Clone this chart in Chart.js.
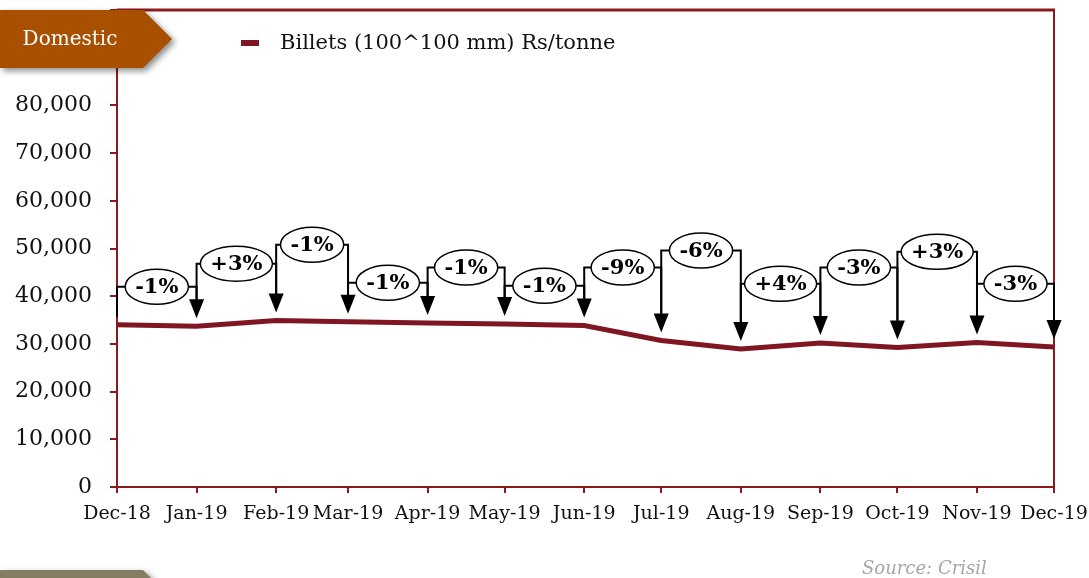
<!DOCTYPE html>
<html>
<head>
<meta charset="utf-8">
<title>Billets price</title>
<script src="https://cdn.jsdelivr.net/npm/chart.js@4/dist/chart.umd.min.js"></script>
<style>
  body { margin: 0; background: #fff; }
  #wrap { width: 1089px; height: 578px; position: relative; }
</style>
</head>
<body>
<div id="wrap"><canvas id="chart"></canvas></div>
<script>
// data
const months = ['Dec-18', 'Jan-19', 'Feb-19', 'Mar-19', 'Apr-19', 'May-19', 'Jun-19',
                'Jul-19', 'Aug-19', 'Sep-19', 'Oct-19', 'Nov-19', 'Dec-19'];
const billets = [34000, 33700, 34900, 34650, 34370, 34160, 33870,
                 30720, 28910, 30170, 29250, 30300, 29330];
const changeLabels = ['-1%', '+3%', '-1%', '-1%', '-1%', '-1%', '-9%', '-6%', '+4%', '-3%', '+3%', '-3%'];
// height (in Rs/tonne) at which each month-on-month callout sits
const calloutLevels = [42000, 46800, 50800, 42800, 46000, 42200, 46000, 49600, 42600, 46000, 49300, 42600];
const seriesName = 'Billets (100^100 mm) Rs/tonne';

const frameRed = '#8c1c1c';
const lineRed = '#801621';

// month labels -> days since the first month (the axis is a date axis)
const monNames = ['Jan', 'Feb', 'Mar', 'Apr', 'May', 'Jun', 'Jul', 'Aug', 'Sep', 'Oct', 'Nov', 'Dec'];
function toDate(lbl) {
  const [m, y] = lbl.split('-');
  return Date.UTC(2000 + Number(y), monNames.indexOf(m), 1);
}
const start = toDate(months[0]);
const days = months.map(m => Math.round((toDate(m) - start) / 86400000));

Chart.defaults.font.family = "'DejaVu Serif', serif";
Chart.defaults.color = '#1a1a1a';

// top and right edges of the frame
const framePlugin = {
  id: 'frame',
  beforeDatasetsDraw(chart) {
    const { ctx, chartArea: a } = chart;
    ctx.save();
    ctx.strokeStyle = frameRed;
    ctx.lineWidth = 3;
    ctx.beginPath();
    ctx.moveTo(a.left, a.top);
    ctx.lineTo(a.right + 1, a.top);
    ctx.stroke();
    ctx.lineWidth = 2;
    ctx.beginPath();
    ctx.moveTo(a.right, a.top);
    ctx.lineTo(a.right, a.bottom);
    ctx.stroke();
    ctx.restore();
  }
};

// bracket + ellipse + arrow for every month-on-month change
const calloutPlugin = {
  id: 'callouts',
  afterDatasetsDraw(chart) {
    const { ctx } = chart;
    const xs = chart.scales.x, ys = chart.scales.y;
    const gap = 8, headH = 19, headW = 7.5;
    ctx.save();
    ctx.strokeStyle = '#000';
    ctx.fillStyle = '#000';
    ctx.font = "bold 21px 'DejaVu Serif', serif";
    ctx.textAlign = 'center';
    ctx.textBaseline = 'middle';
    for (let i = 1; i < months.length; i++) {
      const x0 = xs.getPixelForValue(days[i - 1]);
      const x1 = xs.getPixelForValue(days[i]);
      const yl = ys.getPixelForValue(calloutLevels[i - 1]);
      const y0 = ys.getPixelForValue(billets[i - 1]) - gap;
      const y1 = ys.getPixelForValue(billets[i]) - gap;
      const cx = (x0 + x1) / 2;
      const tw = ctx.measureText(changeLabels[i - 1]).width;
      const rx = Math.min((tw + 20) / 2, (x1 - x0) / 2 - 2);
      const ry = 17.5;

      ctx.lineWidth = 2;
      ctx.beginPath();
      // left leg
      ctx.moveTo(x0, i === 1 ? y0 : y0 - headH);
      ctx.lineTo(x0, yl);
      ctx.lineTo(cx - rx, yl);
      // right leg down to the arrow
      ctx.moveTo(cx + rx, yl);
      ctx.lineTo(x1, yl);
      ctx.lineTo(x1, y1 - headH + 1);
      ctx.stroke();

      ctx.beginPath();
      ctx.moveTo(x1 - headW, y1 - headH);
      ctx.lineTo(x1 + headW, y1 - headH);
      ctx.lineTo(x1, y1);
      ctx.closePath();
      ctx.fill();

      ctx.beginPath();
      ctx.ellipse(cx, yl, rx, ry, 0, 0, Math.PI * 2);
      ctx.fillStyle = '#fff';
      ctx.fill();
      ctx.lineWidth = 1.5;
      ctx.stroke();
      ctx.fillStyle = '#000';
      ctx.fillText(changeLabels[i - 1], cx, yl + 1);
    }
    ctx.restore();
  }
};

// legend, section tags and source note
function tag(ctx, y, color) {
  ctx.save();
  ctx.shadowColor = 'rgba(0,0,0,0.45)';
  ctx.shadowBlur = 6;
  ctx.shadowOffsetX = 3;
  ctx.shadowOffsetY = 3;
  ctx.fillStyle = color;
  ctx.beginPath();
  ctx.moveTo(0, y);
  ctx.lineTo(143, y);
  ctx.lineTo(172, y + 29);
  ctx.lineTo(143, y + 58);
  ctx.lineTo(0, y + 58);
  ctx.closePath();
  ctx.fill();
  ctx.restore();
}

const decorPlugin = {
  id: 'decor',
  afterDraw(chart) {
    const { ctx } = chart;
    ctx.save();
    // legend
    ctx.fillStyle = lineRed;
    ctx.fillRect(241, 40, 18, 6);
    ctx.fillStyle = '#111';
    ctx.font = "21px 'DejaVu Serif', serif";
    ctx.textBaseline = 'middle';
    ctx.textAlign = 'left';
    ctx.fillText(chart.data.datasets[0].label, 280, 44);

    tag(ctx, 10, '#a84f00');
    ctx.fillStyle = '#fff';
    ctx.font = "20px 'DejaVu Serif', serif";
    ctx.textAlign = 'center';
    ctx.fillText('Domestic', 70, 40);

    tag(ctx, 570, '#857c64');

    ctx.fillStyle = '#a6a6a6';
    ctx.font = "italic 18px 'DejaVu Serif', serif";
    ctx.textAlign = 'left';
    ctx.textBaseline = 'alphabetic';
    ctx.fillText('Source: Crisil', 862, 574);
    ctx.restore();
  }
};

new Chart(document.getElementById('chart'), {
  type: 'line',
  data: {
    datasets: [{
      label: seriesName,
      data: days.map((d, i) => ({ x: d, y: billets[i] })),
      borderColor: lineRed,
      borderWidth: 5,
      pointRadius: 0,
      tension: 0,
      clip: false
    }]
  },
  options: {
    responsive: true,
    maintainAspectRatio: false,
    animation: false,
    layout: { padding: { top: 10, right: 35, left: 0, bottom: 0 } },
    plugins: {
      legend: { display: false },
      tooltip: { enabled: false }
    },
    scales: {
      x: {
        type: 'linear',
        min: days[0],
        max: days[days.length - 1],
        afterFit(scale) {
          scale.height = 91;
          scale.paddingLeft = 0;
          scale.paddingRight = 0;
        },
        afterBuildTicks(scale) { scale.ticks = days.map(v => ({ value: v })); },
        grid: { drawOnChartArea: false, color: frameRed, lineWidth: 2, tickLength: 6 },
        border: { color: frameRed, width: 2 },
        ticks: {
          autoSkip: false,
          maxRotation: 0,
          padding: 10,
          font: { size: 19 },
          color: '#111',
          callback: v => months[days.indexOf(v)]
        }
      },
      y: {
        min: 0,
        max: 100000,
        afterFit(scale) {
          scale.width = 117;
          scale.paddingTop = 0;
          scale.paddingBottom = 0;
        },
        grid: { drawOnChartArea: false, color: frameRed, lineWidth: 2, tickLength: 7 },
        border: { color: frameRed, width: 2 },
        ticks: {
          stepSize: 10000,
          padding: 18,
          font: { size: 22 },
          color: '#111',
          callback: v => v === 100000 ? '' : v.toLocaleString('en-US')
        }
      }
    }
  },
  plugins: [framePlugin, calloutPlugin, decorPlugin]
});
</script>
</body>
</html>
